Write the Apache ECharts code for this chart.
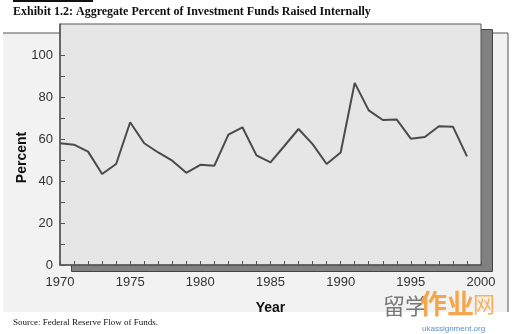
<!DOCTYPE html>
<html>
<head>
<meta charset="utf-8">
<script src="https://cdn.jsdelivr.net/npm/echarts@6/dist/echarts.min.js"></script>
<style>html,body{margin:0;padding:0;background:#fff;}#c{width:512px;height:334px;}</style>
</head>
<body>
<div id="c"></div>
<script>
var years = [1970,1971,1972,1973,1974,1975,1976,1977,1978,1979,1980,1981,1982,1983,1984,1985,1986,1987,1988,1989,1990,1991,1992,1993,1994,1995,1996,1997,1998,1999];
var percentInternal = [58.1,57.4,54.1,43.4,48.2,68.1,58.1,53.7,49.8,44.0,47.8,47.4,62.2,65.7,52.3,49.0,56.9,64.9,57.7,48.2,53.7,86.9,73.8,69.2,69.4,60.3,61.1,66.2,66.0,51.8];
var yLabelValues = [0,20,40,60,80,100];
var yTickValues = [0,10,20,30,40,50,60,70,80,90,100];
var xLabelValues = [1970,1975,1980,1985,1990,1995,2000];
var xTickValues = [1970,1971,1972,1973,1974,1975,1976,1977,1978,1979,1980,1981,1982,1983,1984,1985,1986,1987,1988,1989,1990,1991,1992,1993,1994,1995,1996,1997,1998,1999,2000];

var chart = echarts.init(document.getElementById('c'), null, {renderer:'canvas'});
var seriesData = years.map(function(y,i){return [y, percentInternal[i]];});
var sans = 'Liberation Sans, Arial, sans-serif';
var serif = 'Liberation Serif, Times New Roman, serif';
chart.setOption({
  animation:false,
  backgroundColor:'#ffffff',
  title:[
    {text:'Exhibit 1.2: Aggregate Percent of Investment Funds Raised Internally', left:13, top:6, padding:0,
     textStyle:{fontFamily:serif, fontWeight:'bold', fontSize:12, color:'#111'}},
    {text:'Source: Federal Reserve Flow of Funds.', left:13, top:318, padding:0,
     textStyle:{fontFamily:serif, fontWeight:'normal', fontSize:9, color:'#111'}}
  ],
  graphic:[
    {type:'rect', z:-20, shape:{x:13,y:0,width:80,height:2}, style:{fill:'#111'}},
    {type:'rect', z:-20, shape:{x:3,y:33,width:505,height:279}, style:{fill:'#f2f2f2'}},
    {type:'line', z:-19, shape:{x1:3,y1:33,x2:508,y2:33}, style:{stroke:'#555',lineWidth:1}},
    {type:'line', z:-19, shape:{x1:508,y1:33,x2:508,y2:312}, style:{stroke:'#555',lineWidth:1}},
    {type:'rect', z:-15, shape:{x:71.5,y:29.5,width:421,height:242}, style:{fill:'#808080', stroke:'#444', lineWidth:1}},
    {type:'text', z:-18, left:383, top:295, style:{text:'留学', font:'22px "Noto Sans CJK SC"', fill:'#777'}},
    {type:'text', z:-18, left:420, top:290, style:{text:'作业', font:'bold 27px "Noto Sans CJK SC"', fill:'#f5a64a'}},
    {type:'text', z:-18, left:473, top:293, style:{text:'网', font:'22px "Noto Sans CJK SC"', fill:'#f5b060'}},
    {type:'text', z:-18, left:422, top:325, style:{text:'ukassignment.org', font:'8px ' + sans, fill:'#5a8fd0'}}
  ],
  grid:{left:60, right:31, top:24, bottom:69, show:true, backgroundColor:'#e6e6e6', borderColor:'#555', borderWidth:1},
  xAxis:{type:'value', min:1970, max:2000, interval:5,
    name:'Year', nameLocation:'middle', nameGap:36,
    nameTextStyle:{fontFamily:sans, fontWeight:'bold', fontSize:14, color:'#111'},
    axisLine:{lineStyle:{color:'#555', width:1.5}},
    axisTick:{inside:true, length:4, customValues:xTickValues, lineStyle:{color:'#555'}},
    axisLabel:{customValues:xLabelValues, margin:11, fontFamily:sans, fontSize:13, color:'#333',
      formatter:function(v){return String(v);}},
    splitLine:{show:false}},
  yAxis:{type:'value', min:0, max:115, interval:20,
    name:'Percent', nameLocation:'middle', nameGap:31, nameMoveOverlap:false,
    nameTextStyle:{fontFamily:sans, fontWeight:'bold', fontSize:14, color:'#111', padding:[0,26,0,0]},
    axisLine:{show:true, lineStyle:{color:'#555', width:1.5}},
    axisTick:{show:true, inside:true, length:5, customValues:yTickValues, lineStyle:{color:'#555'}},
    axisLabel:{customValues:yLabelValues, margin:7, fontFamily:sans, fontSize:13, color:'#333'},
    splitLine:{show:false}},
  series:[{type:'line', data:seriesData, showSymbol:false, symbol:'none',
    lineStyle:{color:'#4a4a4a', width:2}}]
});
</script>
</body>
</html>
